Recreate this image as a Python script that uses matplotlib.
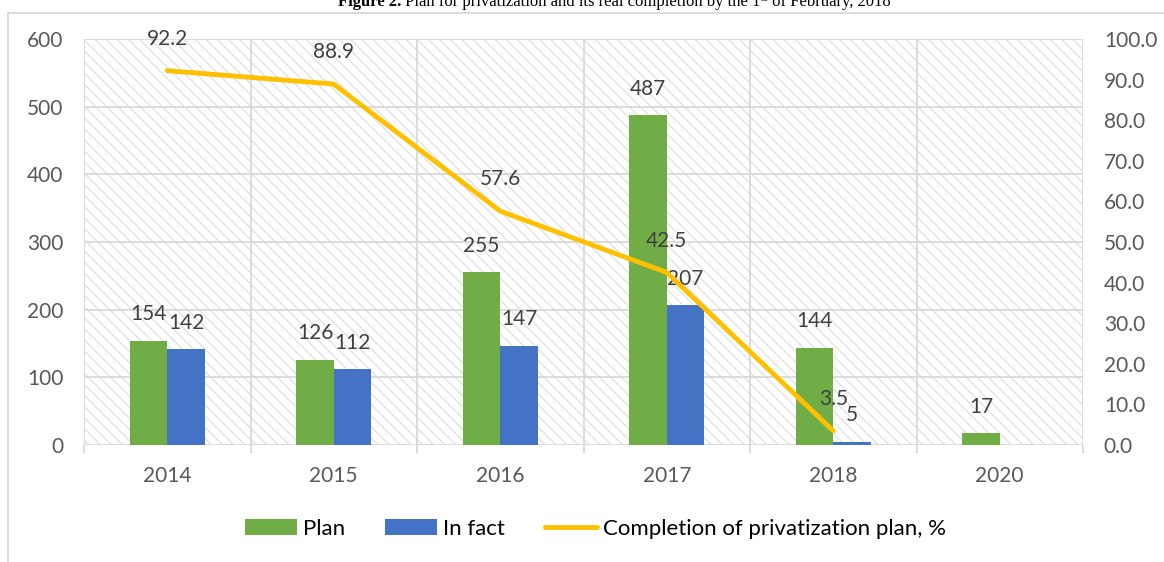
import numpy as np
import matplotlib
matplotlib.use("Agg")
import matplotlib.pyplot as plt
from matplotlib.patches import Rectangle
from matplotlib.lines import Line2D

years = ["2014", "2015", "2016", "2017", "2018", "2020"]
plan = [154, 126, 255, 487, 144, 17]
in_fact = [142, 112, 147, 207, 5, None]
completion = [92.2, 88.9, 57.6, 42.5, 3.5]

GREEN = "#70AD47"
BLUE = "#4472C4"
GOLD = "#FFC000"
GRID = "#D9D9D9"
TXT = "#595959"
FS = 15

plt.rcParams['font.family'] = ['Lato', 'DejaVu Sans']
plt.rcParams['hatch.linewidth'] = 0.8
plt.rcParams['hatch.color'] = "#DDDDDD"

fig = plt.figure(figsize=(11.64, 5.62), dpi=100)
ax = fig.add_axes([84 / 1164, 117 / 562, 999 / 1164, 406 / 562])
ax2 = ax.twinx()

# hatched background of plot area
ax.add_patch(Rectangle((0, 0), 1, 1, transform=ax.transAxes, facecolor="white",
                       edgecolor="#DDDDDD", hatch="\\\\\\", lw=0, zorder=0))

x = np.arange(len(years))
w = 0.225
ax.bar(x - w / 2, plan, w, color=GREEN, zorder=3, label="Plan")
fact_vals = [v if v is not None else 0 for v in in_fact]
ax.bar(x + w / 2, fact_vals, w, color=BLUE, zorder=3, label="In fact")

for i, v in enumerate(plan):
    ax.annotate(str(v), (x[i] - w / 2, v), xytext=(0, 19), textcoords="offset points",
                ha="center", va="center", fontsize=FS, color="#404040", zorder=5)
for i, v in enumerate(in_fact):
    if v is None:
        continue
    ax.annotate(str(v), (x[i] + w / 2, v), xytext=(0, 19), textcoords="offset points",
                ha="center", va="center", fontsize=FS, color="#404040", zorder=5)

ax.set_xlim(-0.5, len(years) - 0.5)
ax.set_ylim(0, 600)
ax.set_yticks(range(0, 601, 100))
ax.set_xticks(x)
ax.set_xticklabels(years)
ax.set_xticks(np.arange(-0.5, len(years), 1), minor=True)
ax.grid(axis="y", color=GRID, lw=1.3, zorder=1)
ax.grid(axis="x", which="minor", color=GRID, lw=1.3, zorder=1)
ax.set_axisbelow(True)
ax.tick_params(axis="x", which="major", length=0, pad=15, labelsize=FS, labelcolor=TXT)
ax.tick_params(axis="x", which="minor", length=6, color=GRID, width=1.3)
ax.tick_params(axis="y", length=0, pad=15, labelsize=FS, labelcolor=TXT)
for s in ax.spines.values():
    s.set_visible(False)

ax2.plot(x[:len(completion)], completion, color=GOLD, lw=3.5, solid_capstyle="round",
         zorder=4, label="Completion of privatization plan, %")
for i, v in enumerate(completion):
    ax2.annotate(f"{v:.1f}", (x[i], v), xytext=(0, 23), textcoords="offset points",
                 ha="center", va="center", fontsize=FS, color="#404040", zorder=5)
ax2.set_ylim(0, 100)
ax2.set_yticks(range(0, 101, 10))
ax2.set_yticklabels([f"{t:.1f}" for t in range(0, 101, 10)])
ax2.tick_params(axis="y", length=0, pad=15, labelsize=FS, labelcolor=TXT)
for s in ax2.spines.values():
    s.set_visible(False)

h1, l1 = ax.get_legend_handles_labels()
h2, l2 = ax2.get_legend_handles_labels()
fig.legend(h1 + h2, l1 + l2, loc="center", bbox_to_anchor=(0.5116, 0.0587), ncol=3,
           frameon=False, fontsize=16, handlelength=2.35, handletextpad=0.27,
           columnspacing=1.8, labelcolor="black")

# chart frame (light gray border)
fy = 1 - 13 / 562
fx = 8 / 1164
fig.add_artist(Line2D([fx, 1], [fy, fy], transform=fig.transFigure, color=GRID, lw=1.3))
fig.add_artist(Line2D([fx, fx], [0, fy], transform=fig.transFigure, color=GRID, lw=1.3))

# title, clipped at the top edge like the reference
renderer = fig.canvas.get_renderer()
ty = 1 - 6 / 562
pieces = [("Figure 2.", "bold", 12, 0), (" Plan for privatization and its real completion by the 1", "normal", 12, 0),
          ("st", "normal", 8, 5), (" of February, 2018", "normal", 12, 0)]
cx = 338
for txt, weight, size, rise in pieces:
    t = fig.text(cx / 1164, ty + rise / 562, txt, fontsize=size, fontweight=weight,
                 family="Liberation Serif", va="baseline", ha="left")
    cx += t.get_window_extent(renderer).width

fig.savefig("out.png", dpi=100)
